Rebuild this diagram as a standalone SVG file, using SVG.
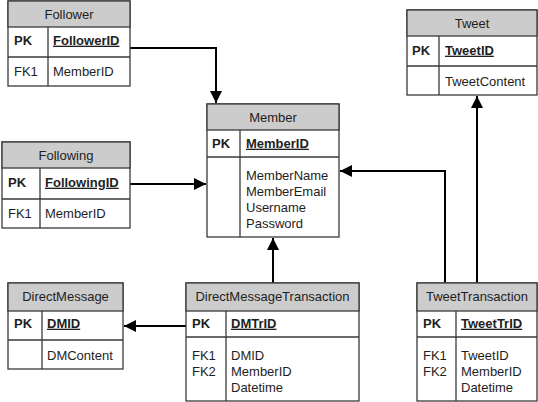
<svg xmlns="http://www.w3.org/2000/svg" width="538" height="402" viewBox="0 0 538 402">
<style>
text{font-family:"Liberation Sans",Arial,sans-serif;font-size:13px;fill:#1e1e1e}
.h{text-anchor:middle}
.b{font-weight:bold}
.u{font-weight:bold;text-decoration:underline}
.hd{fill:#cccccc;stroke:#3a3a3a;stroke-width:1.3}
.bd{fill:#ffffff;stroke:#3a3a3a;stroke-width:1.3}
.ln{stroke:#3a3a3a;stroke-width:1.3;fill:none}
.c{stroke:#000;stroke-width:2;fill:none}
</style>
<defs>
<marker id="arr" markerUnits="userSpaceOnUse" markerWidth="13" markerHeight="13" refX="12" refY="6" orient="auto" viewBox="0 0 13 13">
<path d="M0,0 L12,6 L0,12 z" fill="#000"/>
</marker>
</defs>
<rect width="538" height="402" fill="#fff"/>
<g id="connectors">
<path class="c" d="M130,48 H216 V103" marker-end="url(#arr)"/>
<path class="c" d="M130,184 H206" marker-end="url(#arr)"/>
<path class="c" d="M273,283 V238" marker-end="url(#arr)"/>
<path class="c" d="M186,326 H124" marker-end="url(#arr)"/>
<path class="c" d="M445,283 V171 H340" marker-end="url(#arr)"/>
<path class="c" d="M477,283 V96" marker-end="url(#arr)"/>
</g>
<g id="Follower">
<rect class="bd" x="8" y="1" width="122" height="85"/>
<rect class="hd" x="8" y="1" width="122" height="26"/>
<path class="ln" d="M8,57 H130 M48,27 V86"/>
<text class="h" x="69" y="18.7">Follower</text>
<text class="b" x="14" y="44.7">PK</text>
<text class="u" x="53" y="44.7">FollowerID</text>
<text x="14" y="76">FK1</text>
<text x="53" y="76">MemberID</text>
</g>
<g id="Following">
<rect class="bd" x="2" y="142" width="128" height="86"/>
<rect class="hd" x="2" y="142" width="128" height="26"/>
<path class="ln" d="M2,199 H130 M40,168 V228"/>
<text class="h" x="66" y="159.7">Following</text>
<text class="b" x="8" y="186.7">PK</text>
<text class="u" x="45" y="186.7">FollowingID</text>
<text x="8" y="217.7">FK1</text>
<text x="45" y="217.7">MemberID</text>
</g>
<g id="Member">
<rect class="bd" x="207" y="104" width="132" height="133"/>
<rect class="hd" x="207" y="104" width="132" height="26"/>
<path class="ln" d="M207,157 H339 M240,130 V237"/>
<text class="h" x="273" y="121.7">Member</text>
<text class="b" x="212" y="147.7">PK</text>
<text class="u" x="246" y="147.7">MemberID</text>
<text x="246" y="180">MemberName</text>
<text x="246" y="196">MemberEmail</text>
<text x="246" y="212">Username</text>
<text x="246" y="228">Password</text>
</g>
<g id="Tweet">
<rect class="bd" x="407" y="10" width="130" height="85"/>
<rect class="hd" x="407" y="10" width="130" height="26"/>
<path class="ln" d="M407,66 H537 M439,36 V95"/>
<text class="h" x="472" y="27.7">Tweet</text>
<text class="b" x="412" y="54.7">PK</text>
<text class="u" x="445" y="54.7">TweetID</text>
<text x="445" y="85.7">TweetContent</text>
</g>
<g id="DirectMessage">
<rect class="bd" x="8" y="283" width="115" height="86"/>
<rect class="hd" x="8" y="283" width="115" height="28"/>
<path class="ln" d="M8,340 H123 M42,311 V369"/>
<text class="h" x="65.5" y="301.4">DirectMessage</text>
<text class="b" x="14" y="327.7">PK</text>
<text class="u" x="47" y="327.7">DMID</text>
<text x="47" y="359.5">DMContent</text>
</g>
<g id="DirectMessageTransaction">
<rect class="bd" x="186" y="283" width="173" height="118"/>
<rect class="hd" x="186" y="283" width="173" height="28"/>
<path class="ln" d="M186,337 H359 M226,311 V401"/>
<text class="h" x="272.5" y="301.4">DirectMessageTransaction</text>
<text class="b" x="192" y="327.7">PK</text>
<text class="u" x="231" y="327.7">DMTrID</text>
<text x="192" y="360">FK1</text>
<text x="192" y="376">FK2</text>
<text x="231" y="360">DMID</text>
<text x="231" y="376">MemberID</text>
<text x="231" y="392">Datetime</text>
</g>
<g id="TweetTransaction">
<rect class="bd" x="417" y="283" width="120" height="118"/>
<rect class="hd" x="417" y="283" width="120" height="28"/>
<path class="ln" d="M417,337 H537 M456,311 V401"/>
<text class="h" x="477" y="301.4">TweetTransaction</text>
<text class="b" x="423" y="327.7">PK</text>
<text class="u" x="461" y="327.7">TweetTrID</text>
<text x="423" y="360">FK1</text>
<text x="423" y="376">FK2</text>
<text x="461" y="360">TweetID</text>
<text x="461" y="376">MemberID</text>
<text x="461" y="392">Datetime</text>
</g>
</svg>
